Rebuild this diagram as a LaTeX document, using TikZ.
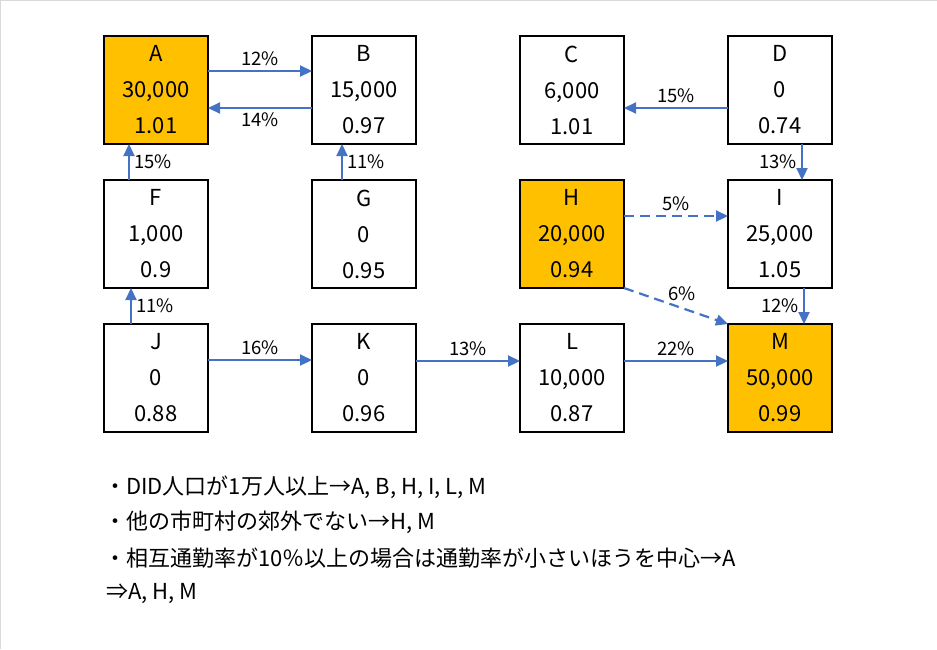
\documentclass[tikz,border=0pt]{standalone}
\usepackage{fontspec}
\setmainfont{Noto Sans CJK JP}
\usepackage{xcolor}
\usetikzlibrary{arrows.meta, positioning}
\definecolor{linkblue}{HTML}{4472C4}
\definecolor{coreorange}{HTML}{FFC000}
\tikzset{
  city/.style  = {rectangle, draw=black, line width=1.2pt, fill=white,
                  minimum width=104pt, minimum height=108pt, inner sep=0pt,
                  outer sep=0pt, align=center, font=\fontsize{22}{36}\selectfont},
  core/.style  = {city, fill=coreorange},
  flow/.style  = {-{Triangle[length=12pt,width=11pt]}, line width=2.2pt, draw=linkblue},
  dflow/.style = {flow, dash pattern=on 10pt off 6pt},
  pct/.style   = {font=\fontsize{18.5}{18.5}\selectfont, inner sep=4pt},
  note/.style  = {anchor=west, inner sep=0pt, font=\fontsize{22}{22}\selectfont},
}

\begin{document}
\begin{tikzpicture}[x=1pt, y=-1pt, node distance=36pt and 104pt]
  \useasboundingbox (0,0) rectangle (937,649);
  \draw[black!15, line width=2pt] (0,649) -- (0,0) -- (937,0);

  % Row 1
  \node[core] (A) at (156,90) {A\\30,000\\1.01};
  \node[city, right=of A] (B) {B\\15,000\\0.97};
  \node[city, right=of B] (C) {C\\6,000\\1.01};
  \node[city, right=of C] (D) {D\\0\\0.74};

  % Row 2
  \node[city, below=of A] (F) {F\\1,000\\0.9};
  \node[city, below=of B] (G) {G\\0\\0.95};
  \node[core, below=of C] (H) {H\\20,000\\0.94};
  \node[city, below=of D] (I) {I\\25,000\\1.05};

  % Row 3
  \node[city, below=of F] (J) {J\\0\\0.88};
  \node[city, below=of G] (K) {K\\0\\0.96};
  \node[city, below=of H] (L) {L\\10,000\\0.87};
  \node[core, below=of I] (M) {M\\50,000\\0.99};

  % Arrows: commuting rates
  \draw[flow] ([yshift=19pt]A.east) -- node[pct, above]{12\%} ([yshift=19pt]B.west);
  \draw[flow] ([yshift=-18pt]B.west) -- node[pct, below]{14\%} ([yshift=-18pt]A.east);
  \draw[flow] ([xshift=-27pt]F.north) -- node[pct, right]{15\%} ([xshift=-27pt]A.south);
  \draw[flow] ([xshift=-22pt]G.north) -- node[pct, right]{11\%} ([xshift=-22pt]B.south);
  \draw[flow] ([yshift=-18pt]D.west) -- node[pct, above]{15\%} ([yshift=-18pt]C.east);
  \draw[flow] ([xshift=22pt]D.south) -- node[pct, left]{13\%} ([xshift=22pt]I.north);
  \draw[flow] ([xshift=-25pt]J.north) -- node[pct, right]{11\%} ([xshift=-25pt]F.south);
  \draw[flow] ([xshift=24pt]I.south) -- node[pct, left]{12\%} ([xshift=24pt]M.north);
  \draw[flow] ([yshift=18pt]J.east) -- node[pct, above]{16\%} ([yshift=18pt]K.west);
  \draw[flow] ([yshift=17pt]K.east) -- node[pct, above]{13\%} ([yshift=17pt]L.west);
  \draw[flow] ([yshift=17pt]L.east) -- node[pct, above]{22\%} ([yshift=17pt]M.west);

  % Dashed: H is not a suburb
  \draw[dflow] ([yshift=18pt]H.east) -- node[pct, above]{5\%} ([yshift=18pt]I.west);
  \draw[dflow] (H.south east) -- node[pct, above, xshift=6pt]{6\%} (M.north west);

  % Notes
  \node[note] (n1) at (104,487) {・DID人口が1万人以上→A, B, H, I, L, M};
  \node[note] (n2) at (104,522) {・他の市町村の郊外でない→H, M};
  \node[note] (n3) at (104,558) {・相互通勤率が10％以上の場合は通勤率が小さいほうを中心→A};
  \node[note] (n4) at (106,594) {⇒A, H, M};
\end{tikzpicture}
\end{document}
